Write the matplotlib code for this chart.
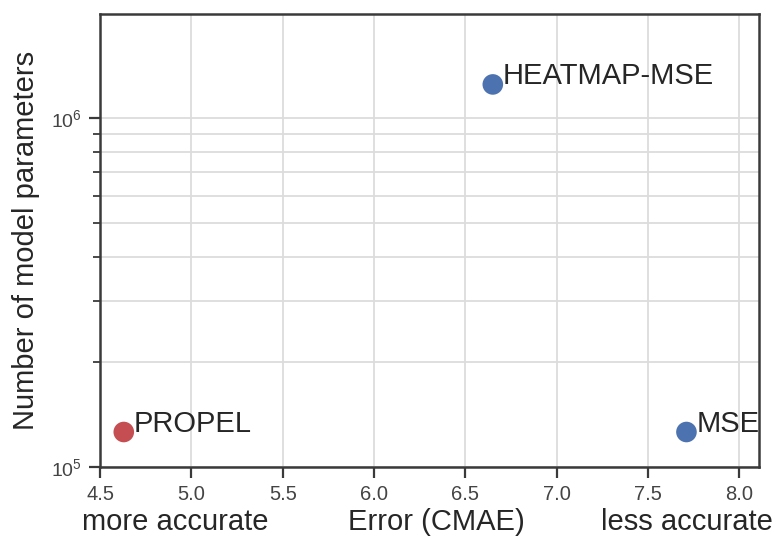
import numpy as np
import matplotlib
matplotlib.use('Agg')
import matplotlib.pyplot as plt
import matplotlib.transforms as mtransforms
from matplotlib.ticker import LogLocator, NullFormatter, FuncFormatter

# model comparison: error vs parameter count
methods = ['PROPEL', 'HEATMAP-MSE', 'MSE']
cmae = [4.63, 6.65, 7.71]
n_params = [1.26e5, 1.25e6, 1.26e5]
point_colors = ['#C44E52', '#4C72B0', '#4C72B0']

x_ticks = [4.5, 5.0, 5.5, 6.0, 6.5, 7.0, 7.5, 8.0]

plt.rcParams['font.family'] = ['Liberation Sans', 'DejaVu Sans']
plt.rcParams['mathtext.fontset'] = 'custom'
plt.rcParams['mathtext.rm'] = 'Liberation Sans'
plt.rcParams['mathtext.it'] = 'Liberation Sans:italic'
text_col = '#262626'
fs = 21

fig = plt.figure(figsize=(7.79, 5.36), dpi=100)
ax = fig.add_axes([0.1284, 0.1287, 0.9743 - 0.1284, 0.9739 - 0.1287])

ax.scatter(cmae, n_params, s=220, c=point_colors, zorder=3, linewidths=0)
for name, x, y in zip(methods, cmae, n_params):
    ax.annotate(name, (x, y), xytext=(7, 0), textcoords='offset points',
                va='baseline', ha='left', fontsize=fs, color=text_col, zorder=4)

ax.set_yscale('log')
ax.set_xlim(4.5, 8.107)
ax.set_ylim(1e5, 1.99e6)
ax.set_xticks(x_ticks)
ax.set_xticklabels(['{:.1f}'.format(t) for t in x_ticks])
ax.yaxis.set_major_locator(LogLocator(base=10))
ax.yaxis.set_major_formatter(
    FuncFormatter(lambda v, pos: r'$\mathregular{10^{%d}}$' % round(np.log10(v))))
ax.yaxis.set_minor_locator(LogLocator(base=10, subs=np.arange(2, 10)))
ax.yaxis.set_minor_formatter(NullFormatter())

ax.grid(True, which='both', color='#dcdcdc', linewidth=1.3, zorder=0)
ax.set_axisbelow(True)

for sp in ax.spines.values():
    sp.set_color('#3a3a3a')
    sp.set_linewidth(1.8)

ax.tick_params(axis='x', which='major', direction='out', length=8, width=1.6,
               color='#3a3a3a', labelsize=14.5, labelcolor='#444444', pad=5)
ax.tick_params(axis='y', which='major', direction='out', length=8, width=1.6,
               color='#3a3a3a', labelsize=14, labelcolor='#444444', pad=5)
ax.tick_params(axis='y', which='minor', direction='out', length=5, width=1.3,
               color='#3a3a3a')

ax.set_ylabel('Number of model parameters', fontsize=fs, color=text_col, labelpad=8)

# x label split into three parts along the bottom
trans = mtransforms.blended_transform_factory(ax.transAxes, ax.transAxes)
ax.text(-0.027, -0.139, 'more accurate', transform=trans, ha='left',
        va='baseline', fontsize=fs, color=text_col)
ax.text(0.511, -0.139, 'Error (CMAE)', transform=trans, ha='center',
        va='baseline', fontsize=fs, color=text_col)
ax.text(1.021, -0.139, 'less accurate', transform=trans, ha='right',
        va='baseline', fontsize=fs, color=text_col)

fig.savefig('out.png', dpi=100)
